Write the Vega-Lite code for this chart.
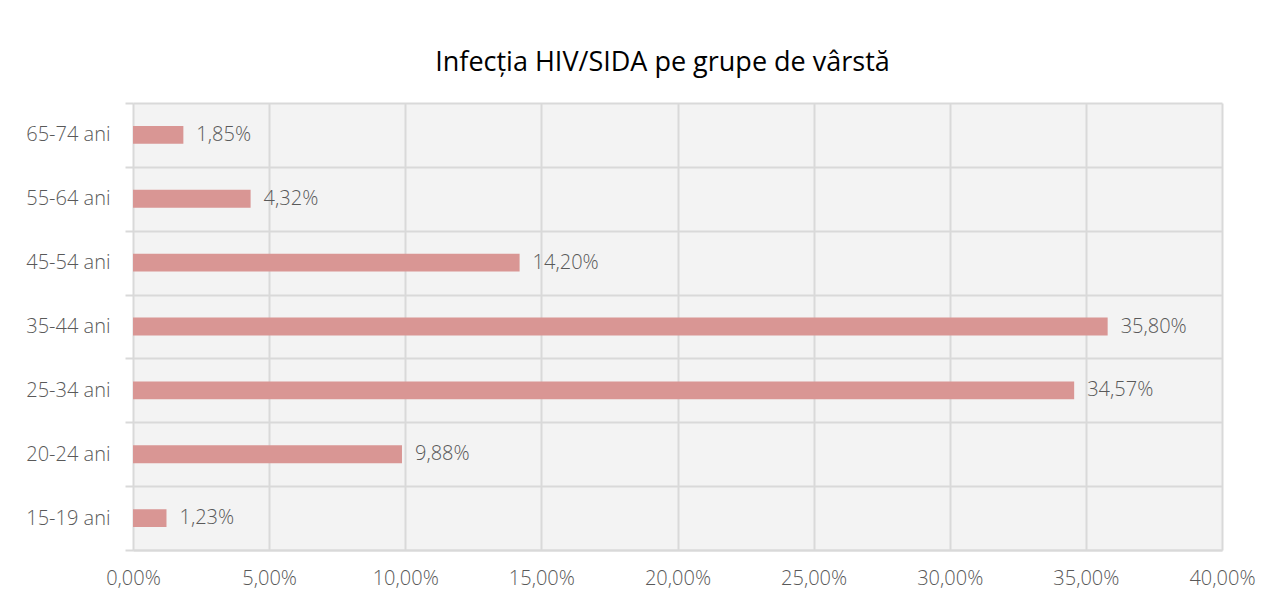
{
  "$schema": "https://vega.github.io/schema/vega-lite/v6.json",
  "autosize": {"type": "none"},
  "width": 1089,
  "height": 447,
  "padding": {"left": 133, "top": 103, "right": 50, "bottom": 55},
  "background": "white",
  "config": {
    "locale": {"number": {"decimal": ",", "thousands": ".", "grouping": [3], "currency": ["", " €"]}},
    "font": "Open Sans",
    "view": {"stroke": null, "fill": "#f3f3f3"}
  },
  "title": {
    "text": "Infecția HIV/SIDA pe grupe de vârstă",
    "font": "Open Sans",
    "fontSize": 27,
    "fontWeight": "normal",
    "color": "#000000",
    "anchor": "middle",
    "offset": 16,
    "dx": -15
  },
  "data": {
    "values": [
      {"grupa": "15-19 ani", "procent": 0.0123},
      {"grupa": "20-24 ani", "procent": 0.0988},
      {"grupa": "25-34 ani", "procent": 0.3457},
      {"grupa": "35-44 ani", "procent": 0.358},
      {"grupa": "45-54 ani", "procent": 0.142},
      {"grupa": "55-64 ani", "procent": 0.0432},
      {"grupa": "65-74 ani", "procent": 0.0185}
    ]
  },
  "encoding": {
    "y": {
      "field": "grupa",
      "type": "nominal",
      "sort": "descending",
      "scale": {"paddingInner": 0, "paddingOuter": 0},
      "axis": {
        "title": null,
        "tickBand": "extent",
        "grid": true,
        "gridColor": "#d9d9d9",
        "gridWidth": 2,
        "ticks": true,
        "tickSize": 8,
        "tickColor": "#d9d9d9",
        "tickWidth": 2,
        "domain": false,
        "labelPadding": 15,
        "labelFontSize": 20,
        "labelFontWeight": 300,
        "labelColor": "#595959",
        "labelFont": "Open Sans"
      }
    },
    "x": {
      "field": "procent",
      "type": "quantitative",
      "scale": {"domain": [0, 0.4], "nice": false},
      "axis": {
        "title": null,
        "format": ".2%",
        "values": [0, 0.05, 0.1, 0.15, 0.2, 0.25, 0.3, 0.35, 0.4],
        "grid": true,
        "gridColor": "#d9d9d9",
        "gridWidth": 2,
        "ticks": false,
        "domain": true,
        "domainColor": "#d9d9d9",
        "domainWidth": 2,
        "labelPadding": 18,
        "labelFontSize": 20,
        "labelFontWeight": 300,
        "labelColor": "#595959",
        "labelFont": "Open Sans",
        "labelFlush": false
      }
    }
  },
  "layer": [
    {"mark": {"type": "bar", "color": "#d99694", "height": {"band": 0.28}}},
    {
      "mark": {"type": "text", "align": "left", "baseline": "middle", "dx": 13, "fontSize": 20, "fontWeight": 300, "color": "#595959", "font": "Open Sans"},
      "encoding": {"text": {"field": "procent", "type": "quantitative", "format": ".2%"}}
    }
  ]
}
